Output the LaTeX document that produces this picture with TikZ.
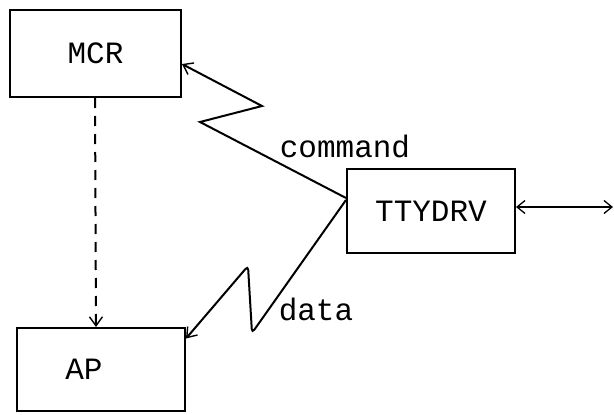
\documentclass[tikz,border=0pt]{standalone}
\usepackage{fontspec}
\setmonofont{Liberation Mono}
\usetikzlibrary{arrows.meta}
\begin{document}
\begin{tikzpicture}[x=1pt,y=-1pt,
  box/.style={draw, line width=2pt, inner sep=0pt, font=\ttfamily\fontsize{31}{33}\selectfont},
  conn/.style={line width=2pt, -{Straight Barb[length=9pt,width=13pt,line width=1.4pt]}},
  lbl/.style={font=\ttfamily\fontsize{31}{33}\selectfont, inner sep=0pt}]
\useasboundingbox (0,0) rectangle (614,415);
\node[box, minimum width=171pt, minimum height=87pt] (mcr) at (95.5,53.5) {MCR};
\node[box, minimum width=168pt, minimum height=84pt] (tty) at (431,211) {TTYDRV};
\node[box, minimum width=168pt, minimum height=83pt] (ap) at (101,369.5) {\hspace*{-34pt}AP};
\coordinate (ext) at (613,207);
% dashed MCR -> AP
\draw[conn, dash pattern=on 10pt off 8pt] (mcr.south -| 95,0) -- (ap.north -| 96,0);
% command
\draw[conn] ([yshift=13pt]tty.west) -- (200,122) -- (262,106) -- ([yshift=-10.5pt]mcr.east);
\node[lbl] (cmd) at (345,146) {command};
% data
\draw[conn, rounded corners=4pt] ([yshift=11pt]tty.west) -- (252,333) -- (248,266) -- ([yshift=31pt]ap.east);
\node[lbl] (data) at (316,309) {data};
% external
\draw[line width=1.6pt, {Straight Barb[length=8pt,width=13pt,line width=1.3pt]}-{Straight Barb[length=8pt,width=13pt,line width=1.3pt]}] ([yshift=4pt]tty.east) -- (ext);
\end{tikzpicture}
\end{document}
